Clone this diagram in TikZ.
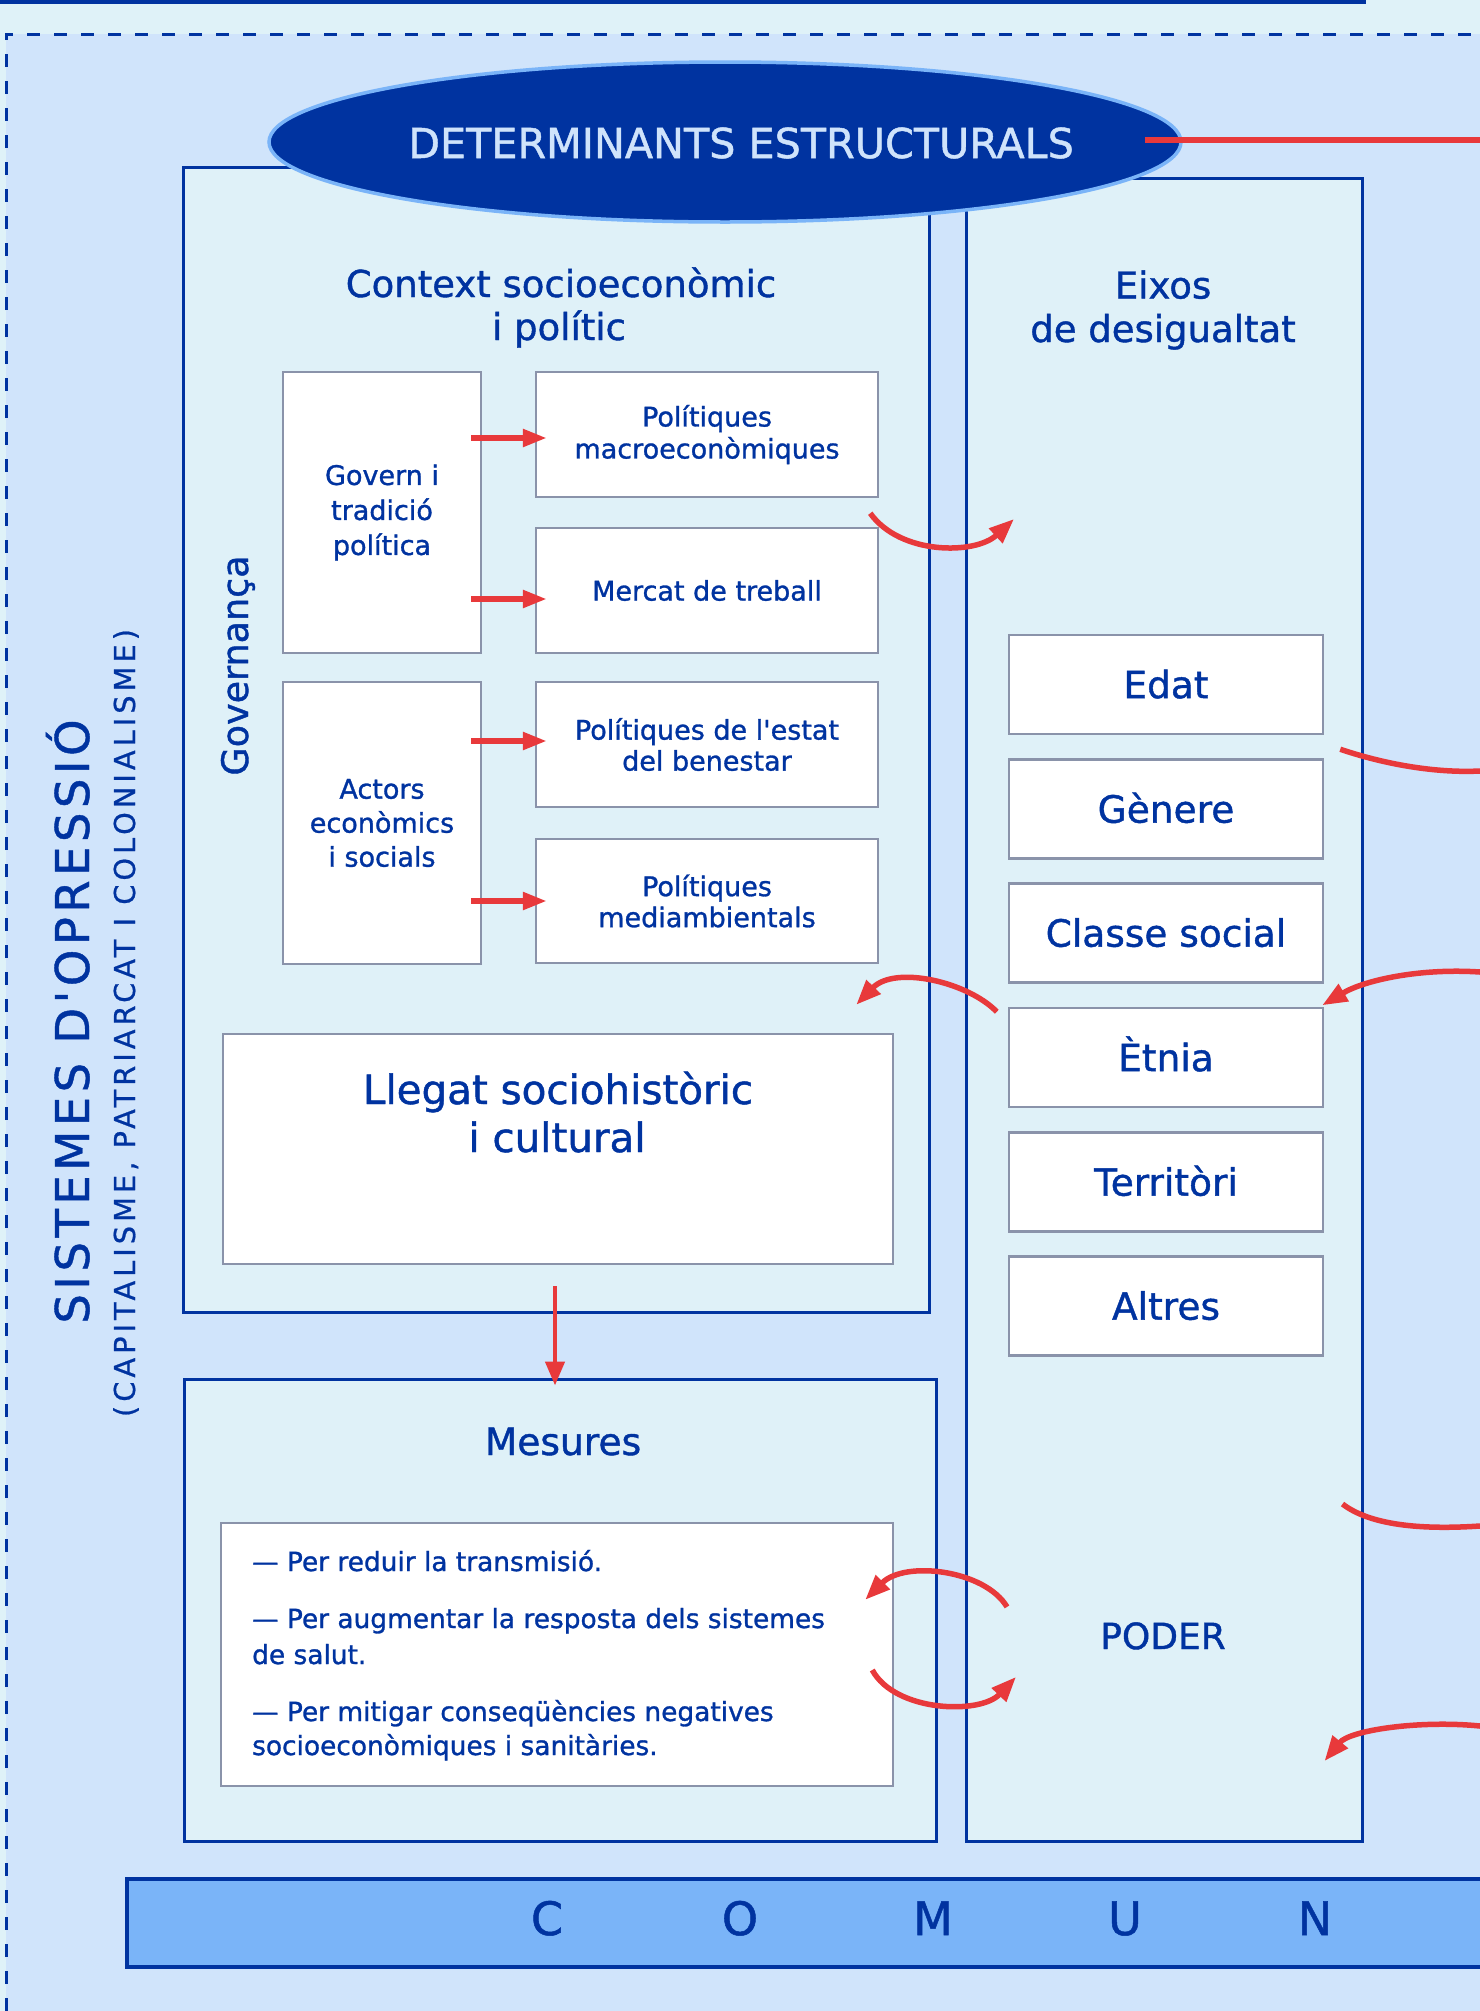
\documentclass[tikz,border=0pt]{standalone}
\usepackage{fontspec}
\setmainfont{DejaVu Sans}[Ligatures=TeXOff,FakeBold=1.1]
\newfontfamily\trackA{DejaVu Sans}[Ligatures=TeXOff,LetterSpace=9.4,FakeBold=0.9]
\newfontfamily\trackB{DejaVu Sans}[Ligatures=TeXOff,LetterSpace=14,FakeBold=0.7]
\usetikzlibrary{shapes.geometric,arrows.meta,calc}
\definecolor{dblue}{HTML}{0033A0}
\definecolor{outerbg}{HTML}{DFF2F8}
\definecolor{innerbg}{HTML}{D0E4FB}
\definecolor{panelfill}{HTML}{DFF1F8}
\definecolor{boxgray}{HTML}{8A93AA}
\definecolor{redc}{HTML}{E8393B}
\definecolor{barblue}{HTML}{7AB4F8}
\definecolor{elltext}{HTML}{CFE3FB}
\newcommand{\fsz}[2]{\fontsize{#1}{#2}\selectfont}
\begin{document}
\begin{tikzpicture}[x=1pt,y=-1pt,
  panel/.style={draw=dblue,line width=3pt,fill=panelfill,inner sep=0pt},
  wbox/.style={draw=boxgray,line width=2.5pt,fill=white,inner sep=0pt,align=center,text=dblue},
  lbl/.style={inner sep=0pt,text=dblue},
  itembox/.style={wbox,minimum width=314pt,minimum height=99pt,font=\fsz{37.5}{45},text height=27.3pt,text depth=0pt},
  redarrow/.style={draw=redc,line width=5.5pt,-{Triangle[length=24pt,width=17pt]}},
  curvearrow/.style={draw=redc,line width=5.5pt,-{Triangle[length=25pt,width=19pt]}},
  curveline/.style={draw=redc,line width=5.5pt}]
\useasboundingbox (0,0) rectangle (1480,2011);
% backgrounds
\fill[outerbg] (0,0) rectangle (1480,2011);
\fill[innerbg] (6,34) rectangle (1480,2011);
\draw[dblue,line width=3pt,dash pattern=on 13pt off 14pt] (6,2011) -- (6,34) -- (1480,34);
\draw[dblue,line width=4pt] (0,2) -- (1366,2);
% panels
\node[panel,minimum width=746pt,minimum height=1145pt] (context) at (556,739.5) {};
\node[panel,minimum width=396pt,minimum height=1663pt] (eixos) at (1164,1009.5) {};
\node[panel,minimum width=752pt,minimum height=462pt] (mesures) at (560,1610) {};
% context boxes
\node[wbox,minimum width=198pt,minimum height=281pt,font=\fsz{27}{35}] (govern) at (382,512.5) {Govern i\\tradició\\política};
\node[wbox,minimum width=342pt,minimum height=125pt,font=\fsz{27}{32}] (macro) at (707,434.5) {Polítiques\\macroeconòmiques};
\node[wbox,minimum width=342pt,minimum height=125pt,font=\fsz{27}{32}] (mercat) at (707,590.5) {Mercat de treball};
\node[wbox,minimum width=198pt,minimum height=282pt,font=\fsz{27}{34}] (actors) at (382,823) {Actors\\econòmics\\i socials};
\node[wbox,minimum width=342pt,minimum height=125pt,font=\fsz{27}{31}] (benestar) at (707,744.5) {Polítiques de l'estat\\del benestar};
\node[wbox,minimum width=342pt,minimum height=124pt,font=\fsz{27}{31}] (medi) at (707,901) {Polítiques\\mediambientals};
\node[wbox,minimum width=670pt,minimum height=230pt] (llegat) at (558,1149) {};
\node[wbox,minimum width=672pt,minimum height=263pt] (llista) at (557,1654.5) {};
% eixos items
\node[itembox] (edat) at (1166,684.5) {Edat};
\node[itembox] (genere) at (1166,809) {Gènere};
\node[itembox] (classe) at (1166,933) {Classe social};
\node[itembox] (etnia) at (1166,1057.5) {Ètnia};
\node[itembox] (territori) at (1166,1182) {Territòri};
\node[itembox] (altres) at (1166,1306) {Altres};
% ellipse
\node[ellipse,minimum width=912pt,minimum height=160pt,fill=dblue,draw=barblue,line width=3.5pt,inner sep=0pt] (det) at (725,142) {};
\node[inner sep=0pt,text=elltext,font=\fsz{41.3}{48}] (dettxt) at (741,143) {DETERMINANTS ESTRUCTURALS};
\coordinate (detout) at (1480,140);
\draw[redc,line width=6pt] ($(det.east)+(-38,-2)$) -- (detout);
% titles
\node[lbl,anchor=base,font=\fsz{37}{43}] (ctx1) at (561,297) {Context socioeconòmic};
\node[lbl,anchor=base,font=\fsz{37}{43}] (ctx2) at (559,340) {i polític};
\node[lbl,anchor=base,font=\fsz{37}{43}] (eix1) at (1163,298.5) {Eixos};
\node[lbl,anchor=base,font=\fsz{37}{43}] (eix2) at (1163,342) {de desigualtat};
\node[lbl,anchor=base,font=\fsz{40.4}{48}] (lleg1) at (558,1104) {Llegat sociohistòric};
\node[lbl,anchor=base,font=\fsz{40.4}{48}] (lleg2) at (557,1152) {i cultural};
\node[lbl,anchor=base,font=\fsz{37.6}{43}] (mestit) at (563,1455) {Mesures};
\node[lbl,anchor=base,font=\fsz{36}{43}] (poder) at (1163,1649) {PODER};
% list
\node[lbl,anchor=base west,font=\fsz{26.4}{30}] (m1) at (252,1571) {— Per reduir la transmisió.};
\node[lbl,anchor=base west,font=\fsz{26.4}{30}] (m2) at (252,1628) {— Per augmentar la resposta dels sistemes};
\node[lbl,anchor=base west,font=\fsz{26.4}{30}] (m3) at (252,1664) {de salut.};
\node[lbl,anchor=base west,font=\fsz{26.4}{30}] (m4) at (252,1721) {— Per mitigar conseqüències negatives};
\node[lbl,anchor=base west,font=\fsz{26.4}{30}] (m5) at (252,1755) {socioeconòmiques i sanitàries.};
% vertical texts
\node[lbl,anchor=base,rotate=90,font=\fsz{36.5}{40}] (gov) at (248,665.5) {Governança};
\node[lbl,anchor=base,rotate=90,font={\trackA\fsz{46.6}{50}}] (sist) at (89,1021.5) {SISTEMES D'OPRESSIÓ};
\node[lbl,anchor=base,rotate=90,font={\trackB\fsz{28.8}{32}}] (capi) at (135,1023) {(CAPITALISME, PATRIARCAT I COLONIALISME)};
% comun bar
\node[draw=dblue,line width=3.5pt,fill=barblue,minimum width=1360pt,minimum height=88pt,inner sep=0pt,anchor=north west] (comun) at (125,1877) {};
\node[lbl,anchor=base,font=\fsz{46}{50}] (cC) at (547,1935) {C};
\node[lbl,anchor=base,font=\fsz{46}{50}] (cO) at (740,1935) {O};
\node[lbl,anchor=base,font=\fsz{46}{50}] (cM) at (933,1935) {M};
\node[lbl,anchor=base,font=\fsz{46}{50}] (cU) at (1125,1935) {U};
\node[lbl,anchor=base,font=\fsz{46}{50}] (cN) at (1315,1935) {N};
% straight arrows
\draw[redarrow] ($(govern.east)+(-11,-74.5)$) -- ($(macro.west)+(12,3.5)$);
\draw[redarrow] ($(govern.east)+(-11,86.5)$) -- ($(mercat.west)+(12,8.5)$);
\draw[redarrow] ($(actors.east)+(-11,-82)$) -- ($(benestar.west)+(12,-3.5)$);
\draw[redarrow] ($(actors.east)+(-11,78)$) -- ($(medi.west)+(12,0)$);
\draw[draw=redc,line width=4.5pt,-{Triangle[length=24pt,width=19pt]}] ($(llegat.south)+(-3,21)$) -- ($(mesures.north)+(-5,8)$);
% curved arrows
\coordinate (eixin) at (1014,519);
\draw[curvearrow] ($(macro.south east)+(-9,15)$) .. controls (900,555) and (975,555) .. (eixin);
\draw[curvearrow] ($(etnia.north west)+(-11,5)$) .. controls (968,982) and (895,965) .. ($(llegat.north east)+(-38,-28)$);
\coordinate (r1) at (1480,771);
\draw[curveline] ($(genere.north east)+(16,-9)$) .. controls (1390,766) and (1440,773) .. (r1);
\coordinate (r2) at (1480,972);
\draw[curvearrow] (r2) .. controls (1420,968) and (1365,980) .. ($(etnia.north east)+(-2,-1.5)$);
\coordinate (r3) at (1480,1526);
\draw[curveline] ($(eixos.east)+(-21,494.5)$) .. controls (1370,1525) and (1420,1530) .. (r3);
\coordinate (r4) at (1480,1726);
\draw[curvearrow] (r4) .. controls (1420,1720) and (1350,1730) .. ($(eixos.east)+(-39,751.5)$);
\draw[curvearrow] ($(poder.center)+(-156,-29)$) .. controls (985,1570) and (905,1560) .. ($(llista.north east)+(-29,78)$);
\draw[curvearrow] ($(llista.east)+(-22,15.5)$) .. controls (895,1712) and (980,1715) .. ($(poder.center)+(-147,41)$);
\end{tikzpicture}
\end{document}
